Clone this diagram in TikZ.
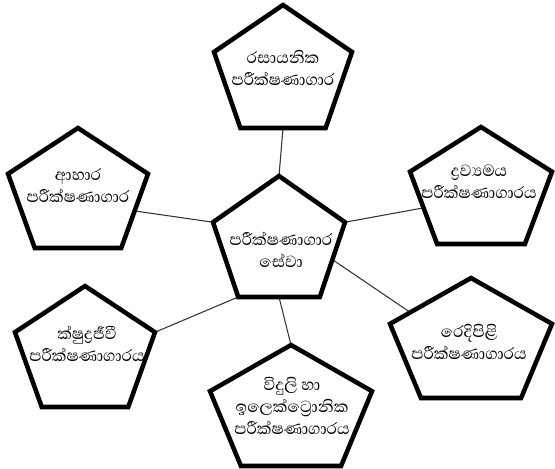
\documentclass[tikz,border=0pt]{standalone}
\usepackage{fontspec}
\newfontfamily\sinhalafont[Script=Sinhala]{Abhaya Libre}
\usetikzlibrary{calc}
\tikzset{
  pentline/.style={draw=black, line width=3.4pt, line join=miter, fill=white},
  pentlabel/.style={font=\sinhalafont\fontsize{15.5}{16.5}\selectfont, align=center, inner sep=0pt},
  link/.style={draw=black!80, line width=0.8pt},
}
\newcommand\pentcoords[5]{% name, apex x, apex y, half width, height
  \coordinate (#1-t) at (#2,#3);
  \coordinate (#1-l) at ({#2-#4},{#3+0.382*#5});
  \coordinate (#1-r) at ({#2+#4},{#3+0.382*#5});
  \coordinate (#1-bl) at ({#2-0.618*#4},{#3+#5});
  \coordinate (#1-br) at ({#2+0.618*#4},{#3+#5});
  \coordinate (#1-b) at ({#2},{#3+#5});
}
\newcommand\pentdraw[1]{%
  \path[pentline] (#1-t) -- (#1-r) -- (#1-br) -- (#1-bl) -- (#1-l) -- cycle;
}
\begin{document}
\begin{tikzpicture}[x=0.75pt,y=-0.75pt]
\useasboundingbox (0,0) rectangle (555,468);
% pentagon geometry
\pentcoords{pchem}{283}{5}{69}{123}
\pentcoords{pcen}{279}{176}{66}{121}
\pentcoords{pfood}{78}{128}{70}{120}
\pentcoords{pmat}{481}{127}{71}{117}
\pentcoords{pmic}{85}{286}{70}{121}
\pentcoords{ptex}{471}{278}{81}{120}
\pentcoords{pele}{291}{345}{81}{121}
\coordinate (pfood-re) at ($(pfood-r)!0.5!(pfood-br)$);
\coordinate (pmat-le) at ($(pmat-l)!0.5!(pmat-bl)$);
\coordinate (pcen-re) at ($(pcen-r)!0.5!(pcen-br)$);
\coordinate (ptex-ue) at ($(ptex-l)!0.25!(ptex-t)$);
% connectors
\draw[link] (pchem-b) -- (pcen-t);
\draw[link] (pfood-re) -- (pcen-l);
\draw[link] (pmat-le) -- (pcen-r);
\draw[link] (pmic-r) -- (pcen-bl);
\draw[link] (pcen-re) -- (ptex-ue);
\draw[link] (pcen-b) -- (pele-t);
% pentagons
\foreach \p in {pchem,pcen,pfood,pmat,pmic,ptex,pele} {\pentdraw{\p}}
% labels
\node[pentlabel] (chem) at (283,68) {රසායනික\\පරීක්ෂණාගාර};
\node[pentlabel] (cen) at (281,250) {පරීක්ෂණාගාර\\සේවා};
\node[pentlabel] (food) at (78,186) {ආහාර\\පරීක්ෂණාගාර};
\node[pentlabel] (mat) at (479,182) {ද්‍රව්‍යමය\\පරීක්ෂණාගාරය};
\node[pentlabel] (mic) at (87,344) {ක්ෂුද්‍රජීවී\\පරීක්ෂණාගාරය};
\node[pentlabel] (tex) at (469,342) {රෙදිපිළි\\පරීක්ෂණාගාරය};
\node[pentlabel] (ele) at (292,406) {විදුලි හා\\ඉලෙක්ට්‍රොනික\\පරීක්ෂණාගාරය};
\end{tikzpicture}
\end{document}
